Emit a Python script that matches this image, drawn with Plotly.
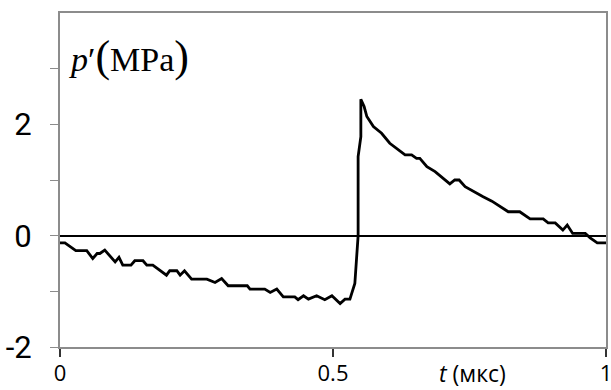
import plotly.graph_objects as go

t_us = [0.0, 0.009, 0.029, 0.049, 0.060, 0.068, 0.073, 0.082, 0.101, 0.108, 0.115, 0.130,
        0.137, 0.152, 0.159, 0.170, 0.195, 0.201, 0.214, 0.220, 0.228, 0.241, 0.269, 0.284,
        0.296, 0.308, 0.343, 0.348, 0.375, 0.385, 0.397, 0.409, 0.430, 0.436, 0.446, 0.455,
        0.470, 0.485, 0.498, 0.513, 0.522, 0.531, 0.540, 0.543, 0.546, 0.546, 0.546, 0.551,
        0.551, 0.557, 0.562, 0.574, 0.589, 0.604, 0.620, 0.632, 0.644, 0.653, 0.659, 0.672,
        0.687, 0.702, 0.714, 0.723, 0.731, 0.742, 0.754, 0.775, 0.791, 0.821, 0.842, 0.861,
        0.885, 0.894, 0.907, 0.921, 0.929, 0.939, 0.962, 0.971, 0.984, 1.0]
p_mpa = [-0.13, -0.13, -0.27, -0.27, -0.41, -0.32, -0.32, -0.26, -0.47, -0.39, -0.53, -0.53,
         -0.45, -0.45, -0.53, -0.53, -0.71, -0.63, -0.63, -0.71, -0.63, -0.78, -0.78, -0.84,
         -0.77, -0.90, -0.90, -0.96, -0.96, -1.02, -0.96, -1.10, -1.10, -1.15, -1.08, -1.14,
         -1.08, -1.15, -1.08, -1.22, -1.14, -1.14, -0.86, -0.38, 0.0, 0.70, 1.42, 1.78,
         2.45, 2.32, 2.14, 1.96, 1.84, 1.66, 1.54, 1.45, 1.45, 1.39, 1.39, 1.24,
         1.15, 1.03, 0.93, 1.00, 1.00, 0.88, 0.81, 0.70, 0.62, 0.43, 0.43, 0.30,
         0.30, 0.23, 0.23, 0.10, 0.19, 0.04, 0.04, -0.04, -0.13, -0.13]

y_tickvals = [-2, -1, 0, 1, 2, 3]
y_ticktext = ["-2", "", "0", "", "2", ""]
x_tickvals = [0, 0.5, 1]
x_ticktext = ["0", "0.5", "1"]

fig = go.Figure()
fig.add_trace(go.Scatter(x=t_us, y=p_mpa, mode="lines",
                         line=dict(color="black", width=2.8), showlegend=False))

fig.update_layout(
    width=611, height=390,
    margin=dict(l=60, r=5, t=13, b=43, autoexpand=False),
    paper_bgcolor="white", plot_bgcolor="white",
    xaxis=dict(range=[0, 1], tickvals=x_tickvals, ticktext=x_ticktext, automargin=False,
               showgrid=False, zeroline=False, showline=True, mirror=True,
               linecolor="#8c8c8c", linewidth=2, ticks="outside", ticklen=8,
               tickcolor="#333333", tickwidth=1.5, ticklabelstandoff=-2,
               ticklabeloverflow="allow",
               tickfont=dict(family="Open Sans, sans-serif", size=22, color="black")),
    yaxis=dict(range=[-2, 4], tickvals=y_tickvals, ticktext=y_ticktext, automargin=False,
               showgrid=False, zeroline=True, zerolinecolor="black", zerolinewidth=1.8,
               showline=True, mirror=True, linecolor="#8c8c8c", linewidth=2,
               ticks="outside", ticklen=8, tickcolor="#8c8c8c", tickwidth=1,
               ticklabelstandoff=12,
               tickfont=dict(family="Roboto, sans-serif", size=31, color="black")),
    annotations=[
        dict(xref="paper", yref="paper", x=0.012, y=0.87, xanchor="left", yanchor="middle",
             showarrow=False,
             text="<i>p</i>′<span style='font-size:44px'>(</span>MPa<span style='font-size:44px'>)</span>",
             font=dict(family="Liberation Serif, Times New Roman, serif", size=34, color="black")),
        dict(xref="paper", yref="paper", x=0.755, y=-0.079, xanchor="center", yanchor="middle",
             showarrow=False, text="<i>t</i> (мкс)", borderpad=0,
             font=dict(family="Open Sans, sans-serif", size=23, color="black")),
    ],
)

fig.write_html("out.html")
